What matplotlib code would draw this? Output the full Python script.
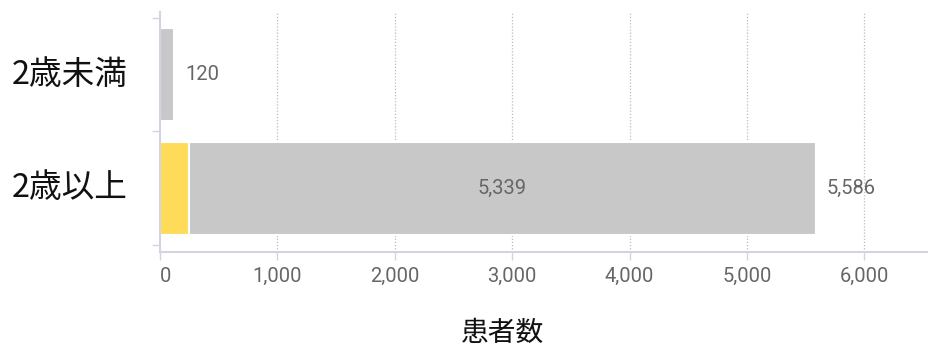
import matplotlib
matplotlib.use('Agg')
from matplotlib import pyplot as plt
from matplotlib.ticker import FuncFormatter

# patient counts by age group
categories = ['2歳未満', '2歳以上']
highlight = [0, 247]
rest = [120, 5339]
totals = [120, 5586]
xticks = [0, 1000, 2000, 3000, 4000, 5000, 6000]

GRAY = '#c8c8c8'
YELLOW = '#fedc5a'
AXIS = '#d3d3e3'
TEXT = '#666666'
JP = ['Noto Sans CJK JP', 'DejaVu Sans']
NUM_SIZE = 14.5


def main():
    fig = plt.figure(figsize=(9.29, 3.49), dpi=100)
    W, H = 929, 349
    ax = fig.add_axes([160 / W, (H - 252) / H, (W - 160) / W, 240 / H])

    y = list(range(len(categories)))
    ax.barh(y, highlight, height=0.82, color=YELLOW, edgecolor='white', linewidth=1.5, zorder=2)
    ax.barh(y, rest, left=highlight, height=0.82, color=GRAY, edgecolor='white', linewidth=1.5, zorder=2)

    # value labels: inside the wide segment, totals past the bar end
    for i in y:
        if rest[i] > 2000:
            ax.text(highlight[i] + rest[i] / 2, i, f'{rest[i]:,}', ha='center', va='center',
                    color=TEXT, fontsize=NUM_SIZE, family='Roboto')
        ax.text(totals[i] + 95, i, f'{totals[i]:,}', ha='left', va='center',
                color=TEXT, fontsize=NUM_SIZE, family='Roboto')

    ax.set_xlim(0, 6550)
    ax.set_ylim(1.562, -0.553)

    ax.set_xticks(xticks)
    ax.xaxis.set_major_formatter(FuncFormatter(lambda v, p: f'{int(v):,}'))
    for lbl in ax.get_xticklabels():
        lbl.set_family('Roboto')
    ax.tick_params(axis='x', length=6, width=1, color=AXIS, labelcolor=TEXT,
                   labelsize=NUM_SIZE, pad=5)
    ax.get_xticklabels()[0].set_x(25)
    ax.get_xticklabels()[0].set_ha('left')

    ax.set_yticks([-0.5, 0.5, 1.5])
    ax.set_yticklabels([])
    ax.tick_params(axis='y', length=6, width=1, color=AXIS)
    for i, c in enumerate(categories):
        ax.text(-0.0415, i, c, transform=ax.get_yaxis_transform(), ha='right', va='center',
                fontsize=23.5, family=JP, color='#111111')

    for xv in xticks[1:]:
        ax.axvline(xv, color='#bdbdbd', linestyle=(0, (1, 1.5)), linewidth=0.9, zorder=1)

    for s in ('top', 'right'):
        ax.spines[s].set_visible(False)
    for s in ('left', 'bottom'):
        ax.spines[s].set_color(AXIS)
        ax.spines[s].set_linewidth(1.5)

    fig.text(503 / W, 1 - 333 / H, '患者数', ha='center', va='center', fontsize=20, family=JP, color='#111111')

    fig.savefig('out.png', dpi=100)


if __name__ == '__main__':
    main()
